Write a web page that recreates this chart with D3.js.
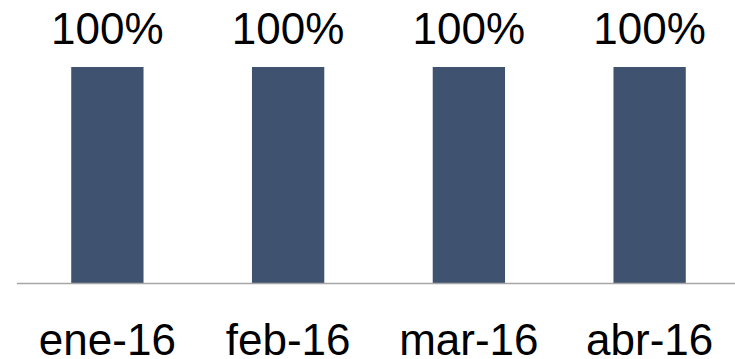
<!DOCTYPE html>
<html>
<head>
<meta charset="utf-8">
<script src="https://cdn.jsdelivr.net/npm/d3@7"></script>
<style>
  html, body { margin: 0; padding: 0; background: #fff; }
  svg { display: block; }
</style>
</head>
<body>
<script>
const categories = ["ene-16", "feb-16", "mar-16", "abr-16"];
const values = [1.0, 1.0, 1.0, 1.0];
const valueLabels = ["100%", "100%", "100%", "100%"];

const W = 735, H = 359;
const svg = d3.select("body").append("svg").attr("width", W).attr("height", H);

const x = d3.scaleBand().domain(categories).range([17, 740]).padding(0);
const y = d3.scaleLinear().domain([0, 1]).range([283, 67]);
const barW = x.bandwidth() * 0.4;

svg.selectAll("rect.bar").data(categories).join("rect")
  .attr("class", "bar")
  .attr("x", (d) => x(d) + x.bandwidth() / 2 - barW / 2)
  .attr("y", (d, i) => y(values[i]))
  .attr("width", barW)
  .attr("height", (d, i) => y(0) - y(values[i]))
  .attr("fill", "#3f5370");

svg.append("line")
  .attr("x1", 17).attr("x2", W)
  .attr("y1", y(0) + 0.5).attr("y2", y(0) + 0.5)
  .attr("stroke", "#a6a6a6").attr("stroke-width", 1.5);

const font = "'Liberation Sans', Arial, sans-serif";

svg.selectAll("text.val").data(categories).join("text")
  .attr("class", "val")
  .attr("x", (d) => x(d) + x.bandwidth() / 2)
  .attr("y", 44)
  .attr("text-anchor", "middle")
  .attr("font-family", font)
  .attr("font-size", 44)
  .attr("fill", "#000")
  .text((d, i) => valueLabels[i]);

svg.selectAll("text.cat").data(categories).join("text")
  .attr("class", "cat")
  .attr("x", (d) => x(d) + x.bandwidth() / 2)
  .attr("y", 355)
  .attr("text-anchor", "middle")
  .attr("font-family", font)
  .attr("font-size", 44)
  .attr("fill", "#000")
  .text((d) => d);
</script>
</body>
</html>
